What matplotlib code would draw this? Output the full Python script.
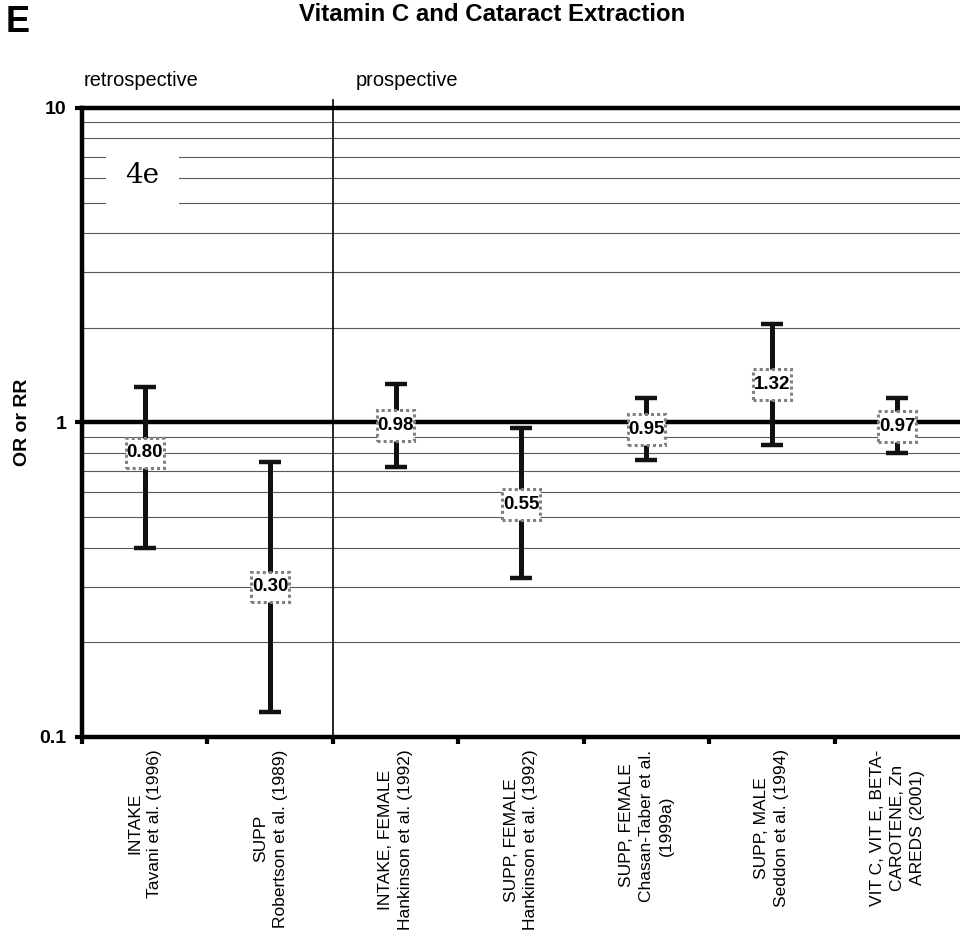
import numpy as np
import matplotlib.pyplot as plt
from matplotlib.patches import Rectangle
from matplotlib.ticker import FixedLocator, NullFormatter

plt.rcParams['font.family'] = ['Liberation Sans', 'DejaVu Sans']

# studies, point estimates and confidence limits
labels = ["INTAKE\nTavani et al. (1996)",
          "SUPP\nRobertson et al. (1989)",
          "INTAKE, FEMALE\nHankinson et al. (1992)",
          "SUPP, FEMALE\nHankinson et al. (1992)",
          "SUPP, FEMALE\nChasan-Taber et al.\n(1999a)",
          "SUPP, MALE\nSeddon et al. (1994)",
          "VIT C, VIT E, BETA-\nCAROTENE, Zn\nAREDS (2001)"]
est = [0.80, 0.30, 0.98, 0.55, 0.95, 1.32, 0.97]
lower = [0.40, 0.12, 0.72, 0.32, 0.76, 0.85, 0.80]
upper = [1.30, 0.75, 1.33, 0.96, 1.20, 2.05, 1.20]
n_retro = 2

fig = plt.figure(figsize=(9.6, 9.31), dpi=100)
ax = fig.add_axes([0.0854, 0.2084, 0.9146, 0.6756])

x = np.arange(len(est))
ax.set_yscale('log')
ax.set_ylim(0.1, 10)
ax.set_xlim(-0.5, len(est) - 0.5)

# grid lines at 2..9 of each decade
for dec in [0.1, 1]:
    for k in range(2, 10):
        ax.axhline(dec * k, color='0.35', lw=0.8, zorder=1)
ax.axhline(1, color='black', lw=3.2, zorder=2)

# separator retrospective / prospective
ax.plot([n_retro - 0.5, n_retro - 0.5], [0.1, 10.6], color='black', lw=1.2,
        clip_on=False, zorder=3)

ax.errorbar(x, est, yerr=[np.array(est) - np.array(lower), np.array(upper) - np.array(est)],
            fmt='none', ecolor='#111111', elinewidth=3.6, capsize=8, capthick=3.2, zorder=4)

# value boxes
bw = 0.30      # box width, category units
bh = 0.049     # half box height, decades
for xi, v in zip(x, est):
    ax.add_patch(Rectangle((xi - bw / 2, v * 10 ** -bh), bw, v * (10 ** bh - 10 ** -bh),
                           fc='white', ec='0.5', lw=2.2, ls=(0, (1, 1)), zorder=5))
    ax.text(xi, v, f"{v:.2f}", ha='center', va='center', fontsize=13.5, fontweight='bold',
            zorder=6)

# "4e" inset label
ax.text(-0.02, 6.1, "4e", ha='center', va='center', fontsize=20, family='DejaVu Serif',
        zorder=5, bbox=dict(boxstyle='square,pad=0.7', fc='white', ec='none'))

for side in ['top', 'left', 'bottom']:
    ax.spines[side].set_linewidth(3.2)
ax.spines['right'].set_visible(False)

ax.yaxis.set_major_locator(FixedLocator([0.1, 1, 10]))
ax.set_yticklabels(['0.1', '1', '10'], fontsize=14, fontweight='bold')
ax.yaxis.set_minor_formatter(NullFormatter())
ax.yaxis.set_minor_locator(FixedLocator([]))
ax.tick_params(axis='y', which='major', length=5, width=3, pad=6)

ax.set_xticks(x)
ax.set_xticklabels(labels, rotation=90, ha='center', va='top', multialignment='center',
                   fontsize=12.5, linespacing=1.4)
ax.set_xticks(np.arange(len(est)) - 0.5, minor=True)
ax.tick_params(axis='x', which='major', length=0, pad=9)
ax.tick_params(axis='x', which='minor', length=5, width=3)

ax.set_ylabel("OR or RR", fontsize=14, fontweight='bold')
ax.yaxis.set_label_coords(-0.058, 0.5)

fig.text(0.513, 0.984, "Vitamin C and Cataract Extraction", ha='center', va='center',
         fontsize=17.3, fontweight='bold')
fig.text(0.006, 0.976, "E", ha='left', va='center', fontsize=26, fontweight='bold')
fig.text(0.087, 0.914, "retrospective", ha='left', va='center', fontsize=14.4)
fig.text(0.371, 0.914, "prospective", ha='left', va='center', fontsize=14.4)

fig.savefig("out.png", dpi=100)
